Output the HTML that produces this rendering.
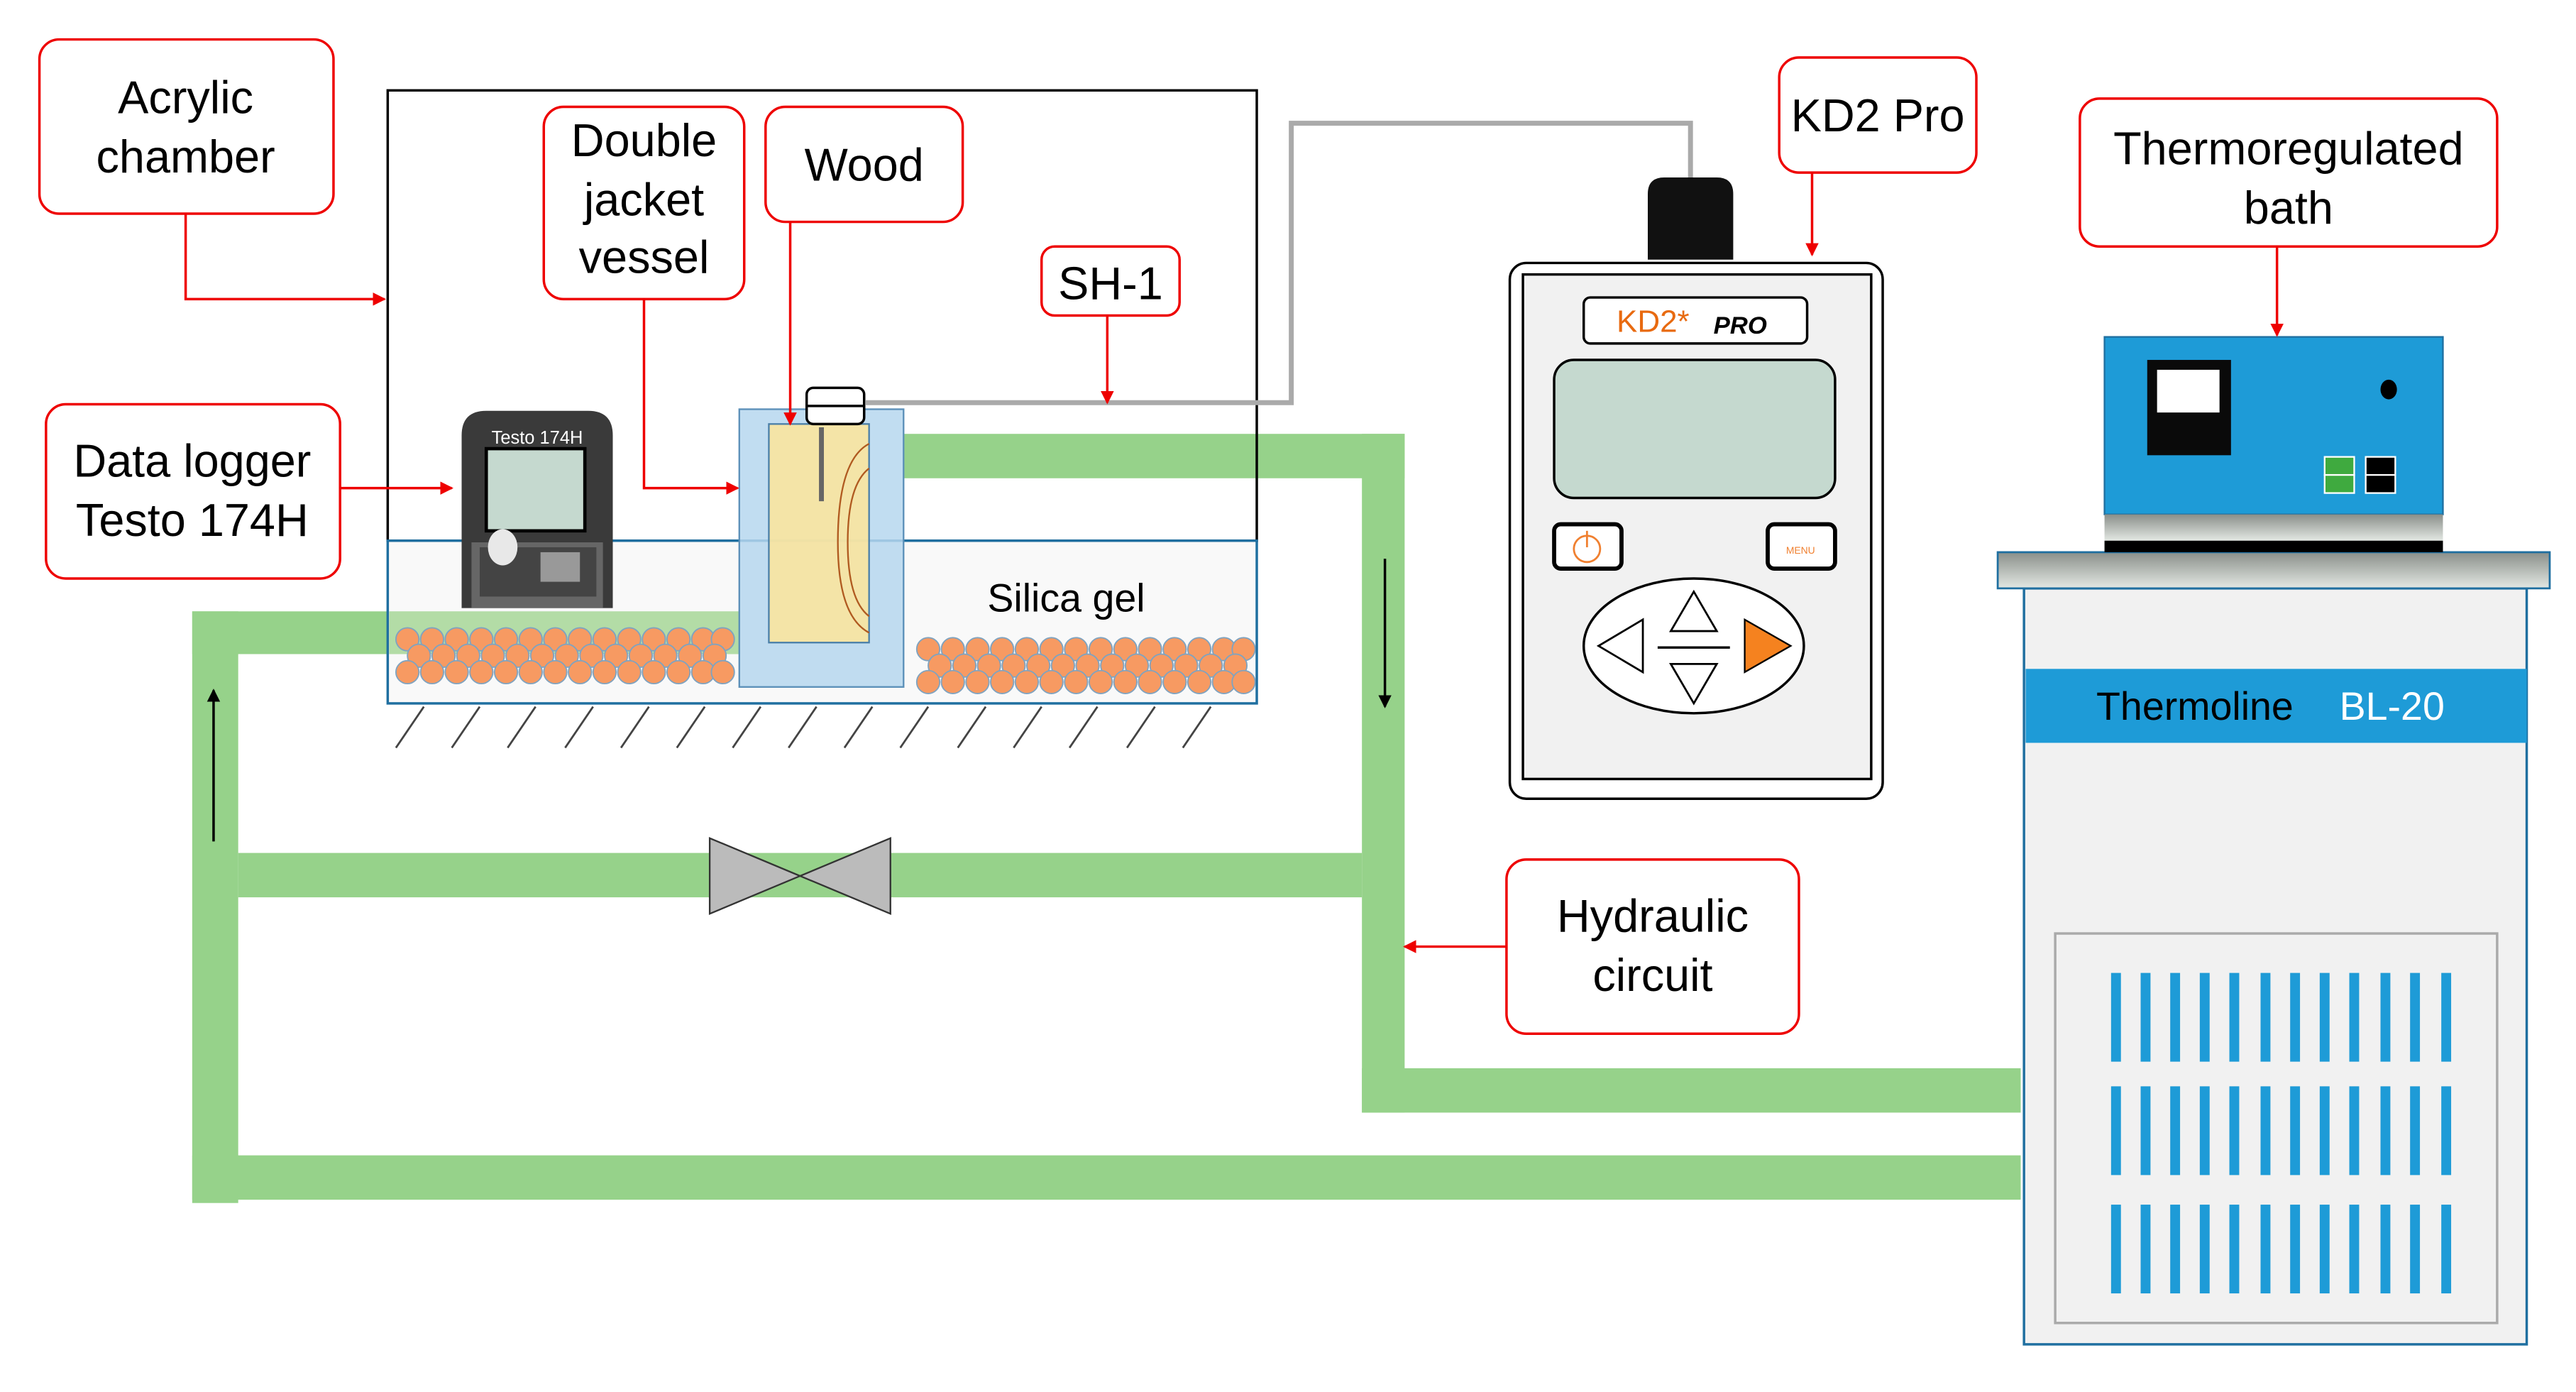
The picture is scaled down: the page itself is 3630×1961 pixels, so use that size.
<!DOCTYPE html>
<html><head><meta charset="utf-8"><style>html,body{margin:0;padding:0;background:#fff}svg{display:block}</style></head><body>
<svg width="3630" height="1961" viewBox="0 0 1568 847" preserveAspectRatio="none" xmlns="http://www.w3.org/2000/svg" font-family="Liberation Sans, sans-serif">
<defs>
<marker id="ra" markerWidth="8" markerHeight="8" refX="7" refY="4" orient="auto" markerUnits="userSpaceOnUse"><path d="M0,0 L8,4 L0,8 z" fill="#e00"/></marker>
<marker id="ka" markerWidth="8" markerHeight="10" refX="7" refY="4" orient="auto" markerUnits="userSpaceOnUse"><path d="M0,0 L8,4 L0,8 z" fill="#000"/></marker>
<linearGradient id="gg" x1="0" y1="0" x2="0" y2="1"><stop offset="0" stop-color="#8a8f8a"/><stop offset="1" stop-color="#e3e8e3"/></linearGradient>
</defs>
<g fill="#96d28a">
<rect x="550" y="264" width="305" height="27"/>
<rect x="829" y="264" width="26" height="413"/>
<rect x="829" y="650" width="401" height="27"/>
<rect x="117" y="372" width="28" height="360"/>
<rect x="117" y="372" width="333" height="26"/>
<rect x="145" y="519" width="684" height="27"/>
<rect x="117" y="703" width="1113" height="27"/>
</g>
<rect x="236" y="55" width="529" height="274" fill="none" stroke="#000" stroke-width="1.5"/>
<rect x="236" y="329" width="529" height="99" fill="#f7f7f7" fill-opacity="0.7" stroke="#1f6fa0" stroke-width="1.5"/>
<rect x="237" y="372" width="213" height="26" fill="#b3dca6"/>
<g stroke="#444" stroke-width="1.2">
<line x1="258" y1="430" x2="241" y2="455"/><line x1="292" y1="430" x2="275" y2="455"/><line x1="326" y1="430" x2="309" y2="455"/><line x1="361" y1="430" x2="344" y2="455"/><line x1="395" y1="430" x2="378" y2="455"/><line x1="429" y1="430" x2="412" y2="455"/><line x1="463" y1="430" x2="446" y2="455"/><line x1="497" y1="430" x2="480" y2="455"/><line x1="531" y1="430" x2="514" y2="455"/><line x1="565" y1="430" x2="548" y2="455"/><line x1="600" y1="430" x2="583" y2="455"/><line x1="634" y1="430" x2="617" y2="455"/><line x1="668" y1="430" x2="651" y2="455"/><line x1="703" y1="430" x2="686" y2="455"/><line x1="737" y1="430" x2="720" y2="455"/>
</g>
<g fill="#f79a62" stroke="#7fa3c0" stroke-width="0.8">
<g id="pa">
<circle cx="248" cy="389" r="7"/><circle cx="263" cy="389" r="7"/><circle cx="278" cy="389" r="7"/><circle cx="293" cy="389" r="7"/><circle cx="308" cy="389" r="7"/><circle cx="323" cy="389" r="7"/><circle cx="338" cy="389" r="7"/><circle cx="353" cy="389" r="7"/><circle cx="368" cy="389" r="7"/><circle cx="383" cy="389" r="7"/><circle cx="398" cy="389" r="7"/><circle cx="413" cy="389" r="7"/><circle cx="428" cy="389" r="7"/><circle cx="440" cy="389" r="7"/>
<circle cx="255" cy="399" r="7"/><circle cx="270" cy="399" r="7"/><circle cx="285" cy="399" r="7"/><circle cx="300" cy="399" r="7"/><circle cx="315" cy="399" r="7"/><circle cx="330" cy="399" r="7"/><circle cx="345" cy="399" r="7"/><circle cx="360" cy="399" r="7"/><circle cx="375" cy="399" r="7"/><circle cx="390" cy="399" r="7"/><circle cx="405" cy="399" r="7"/><circle cx="420" cy="399" r="7"/><circle cx="435" cy="399" r="7"/>
<circle cx="248" cy="409" r="7"/><circle cx="263" cy="409" r="7"/><circle cx="278" cy="409" r="7"/><circle cx="293" cy="409" r="7"/><circle cx="308" cy="409" r="7"/><circle cx="323" cy="409" r="7"/><circle cx="338" cy="409" r="7"/><circle cx="353" cy="409" r="7"/><circle cx="368" cy="409" r="7"/><circle cx="383" cy="409" r="7"/><circle cx="398" cy="409" r="7"/><circle cx="413" cy="409" r="7"/><circle cx="428" cy="409" r="7"/><circle cx="440" cy="409" r="7"/>
</g>
<use href="#pa" x="317" y="6"/>
</g>
<path d="M281,370 V265 Q281,250 296,250 H358 Q373,250 373,265 V370 Z" fill="#3a3a3a"/>
<rect x="287" y="330" width="80" height="40" fill="#666"/>
<rect x="292" y="333" width="71" height="30" fill="#444"/>
<rect x="296" y="273" width="60" height="50" fill="#c5d9cf" stroke="#000" stroke-width="2"/>
<ellipse cx="306" cy="333" rx="9" ry="11" fill="#e8e8e8"/>
<rect x="329" y="336" width="24" height="18" fill="#999"/>
<text x="327" y="270" font-size="11" fill="#fff" text-anchor="middle">Testo 174H</text>
<rect x="450" y="249" width="100" height="169" fill="#b6d7ee" fill-opacity="0.85" stroke="#5a8fb8" stroke-width="1"/>
<rect x="468" y="258" width="61" height="133" fill="#fde59a" fill-opacity="0.85" stroke="#4a7fa8" stroke-width="1"/>
<line x1="500" y1="260" x2="500" y2="305" stroke="#666" stroke-width="3"/>
<path d="M529,270 Q510,280 510,330 Q510,375 529,385" fill="none" stroke="#b05a20" stroke-width="1"/>
<path d="M529,285 Q516,295 516,330 Q516,365 529,375" fill="none" stroke="#b05a20" stroke-width="1"/>
<rect x="491" y="236" width="35" height="22" rx="4" fill="#fff" stroke="#000" stroke-width="1.5"/>
<line x1="491" y1="247" x2="526" y2="247" stroke="#000" stroke-width="1.5"/>
<text x="649" y="372" font-size="24" text-anchor="middle">Silica gel</text>
<path d="M527,245 H786 V75 H1029 V108" fill="none" stroke="#aaa" stroke-width="3"/>
<path d="M432,510 L487,533 L432,556 Z M542,510 L487,533 L542,556 Z" fill="#bbb" stroke="#333" stroke-width="1"/>
<line x1="843" y1="340" x2="843" y2="430" stroke="#000" stroke-width="1.5" marker-end="url(#ka)"/>
<line x1="130" y1="512" x2="130" y2="420" stroke="#000" stroke-width="1.5" marker-end="url(#ka)"/>
<path d="M1003,158 V118 Q1003,108 1013,108 H1045 Q1055,108 1055,118 V158 Z" fill="#111"/>
<rect x="919" y="160" width="227" height="326" rx="10" fill="#fff" stroke="#000" stroke-width="1.5"/>
<rect x="927" y="167" width="212" height="307" fill="#f1f1f1" stroke="#000" stroke-width="1.5"/>
<rect x="964" y="181" width="136" height="28" rx="4" fill="#fff" stroke="#000" stroke-width="1.5"/>
<text x="984" y="202" font-size="19" fill="#e86a10">KD2*</text><text x="1043" y="203" font-size="15" font-weight="bold" font-style="italic">PRO</text>
<rect x="946" y="219" width="171" height="84" rx="12" fill="#c5d9cf" stroke="#000" stroke-width="1.5"/>
<rect x="946" y="319" width="41" height="27" rx="4" fill="#fff" stroke="#000" stroke-width="2.5"/>
<circle cx="966" cy="334" r="8" fill="none" stroke="#f08030" stroke-width="1.2"/><line x1="966" y1="323" x2="966" y2="333" stroke="#f08030" stroke-width="1.2"/>
<rect x="1076" y="319" width="41" height="27" rx="4" fill="#fff" stroke="#000" stroke-width="2.5"/>
<text x="1096" y="337" font-size="6" fill="#f08030" text-anchor="middle">MENU</text>
<ellipse cx="1031" cy="393" rx="67" ry="41" fill="#fff" stroke="#000" stroke-width="1.5"/>
<path d="M1031,360 L1045,384 L1017,384 Z" fill="#fff" stroke="#000" stroke-width="1.2"/>
<path d="M1031,428 L1045,404 L1017,404 Z" fill="#fff" stroke="#000" stroke-width="1.2"/>
<path d="M973,393 L1000,377 L1000,409 Z" fill="#fff" stroke="#000" stroke-width="1.2"/>
<path d="M1090,393 L1062,377 L1062,409 Z" fill="#f5821f" stroke="#000" stroke-width="1"/>
<line x1="1009" y1="394" x2="1053" y2="394" stroke="#000" stroke-width="1.5"/>
<rect x="1232" y="358" width="306" height="460" fill="#f1f1f1" stroke="#1f6fa0" stroke-width="1.5"/>
<rect x="1233" y="407" width="305" height="45" fill="#1e9bd7"/>
<text x="1276" y="438" font-size="24">Thermoline</text><text x="1424" y="438" font-size="24" fill="#fff">BL-20</text>
<rect x="1251" y="568" width="269" height="237" fill="#f1f1f1" stroke="#aaa" stroke-width="1.5"/>
<g fill="#1e9bd7" id="bars">
<rect x="1285" y="592" width="6" height="54"/><rect x="1303" y="592" width="6" height="54"/><rect x="1321" y="592" width="6" height="54"/><rect x="1339" y="592" width="6" height="54"/><rect x="1357" y="592" width="6" height="54"/><rect x="1376" y="592" width="6" height="54"/><rect x="1394" y="592" width="6" height="54"/><rect x="1412" y="592" width="6" height="54"/><rect x="1430" y="592" width="6" height="54"/><rect x="1449" y="592" width="6" height="54"/><rect x="1467" y="592" width="6" height="54"/><rect x="1486" y="592" width="6" height="54"/>
</g>
<use href="#bars" y="69"/><use href="#bars" y="141"/>
<rect x="1216" y="336" width="336" height="22" fill="url(#gg)" stroke="#1f6fa0" stroke-width="1.2"/>
<rect x="1281" y="205" width="206" height="108" fill="#1e9bd7" stroke="#1f6fa0" stroke-width="1"/>
<rect x="1281" y="313" width="206" height="16" fill="url(#gg)"/>
<rect x="1281" y="329" width="206" height="7" fill="#000"/>
<rect x="1307" y="219" width="51" height="58" fill="#0a0a0a"/>
<rect x="1313" y="225" width="38" height="26" fill="#fff"/>
<ellipse cx="1454" cy="237" rx="5" ry="6" fill="#000"/>
<rect x="1415" y="278" width="18" height="11" fill="#3faa3f" stroke="#fff"/><rect x="1415" y="289" width="18" height="11" fill="#3faa3f" stroke="#fff"/>
<rect x="1440" y="278" width="18" height="11" fill="#000" stroke="#fff"/><rect x="1440" y="289" width="18" height="11" fill="#000" stroke="#fff"/>
<g fill="#fff" stroke="#e00" stroke-width="1.5">
<rect x="24" y="24" width="179" height="106" rx="12"/>
<rect x="28" y="246" width="179" height="106" rx="12"/>
<rect x="331" y="65" width="122" height="117" rx="12"/>
<rect x="466" y="65" width="120" height="70" rx="12"/>
<rect x="634" y="150" width="84" height="42" rx="8"/>
<rect x="1083" y="35" width="120" height="70" rx="12"/>
<rect x="1266" y="60" width="254" height="90" rx="12"/>
<rect x="917" y="523" width="178" height="106" rx="12"/>
</g>
<g fill="none" stroke="#e00" stroke-width="1.5" marker-end="url(#ra)">
<path d="M113,130 V182 H234"/>
<path d="M207,297 H275"/>
<path d="M392,182 V297 H449"/>
<path d="M481,135 V258"/>
<path d="M674,192 V245"/>
<path d="M1103,105 V155"/>
<path d="M1386,150 V204"/>
<path d="M917,576 H855"/>
</g>
<g font-size="28" text-anchor="middle" fill="#000">
<text x="113" y="69">Acrylic</text><text x="113" y="105">chamber</text>
<text x="117" y="290">Data logger</text><text x="117" y="326">Testo 174H</text>
<text x="392" y="95">Double</text><text x="392" y="131">jacket</text><text x="392" y="166">vessel</text>
<text x="526" y="110">Wood</text>
<text x="676" y="182">SH-1</text>
<text x="1143" y="80">KD2 Pro</text>
<text x="1393" y="100">Thermoregulated</text><text x="1393" y="136">bath</text>
<text x="1006" y="567">Hydraulic</text><text x="1006" y="603">circuit</text>
</g>
</svg>
</body></html>
